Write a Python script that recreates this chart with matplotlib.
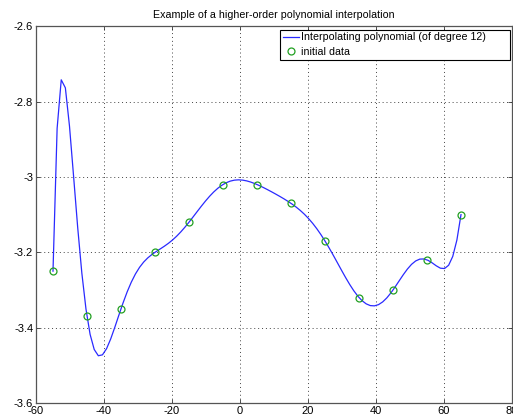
import numpy as np
import matplotlib
matplotlib.use("Agg")
import matplotlib.pyplot as plt
from matplotlib.ticker import FuncFormatter

# Sample points
x_data = [-55, -45, -35, -25, -15, -5, 5, 15, 25, 35, 45, 55, 65]
y_data = [-3.25, -3.37, -3.35, -3.20, -3.12, -3.02, -3.02, -3.07, -3.17, -3.32, -3.30, -3.22, -3.10]

x_ticks = [-60, -40, -20, 0, 20, 40, 60, 80]
y_ticks = [-3.6, -3.4, -3.2, -3.0, -2.8, -2.6]

# Degree-12 interpolating polynomial through all 13 points
poly = np.polynomial.Polynomial.fit(x_data, y_data, len(x_data) - 1)
x_curve = np.linspace(min(x_data), max(x_data), 100)
y_curve = poly(x_curve)

plt.rcParams['font.family'] = ['Liberation Sans', 'DejaVu Sans']

fig = plt.figure(figsize=(5.13, 4.2), dpi=100)
ax = fig.add_axes([36 / 513, 17 / 420, 476 / 513, 376.7 / 420])

ax.plot(x_curve, y_curve, color='#2a2aff', lw=0.9,
        label='Interpolating polynomial (of degree 12)')
ax.plot(x_data, y_data, 'o', mfc='none', mec='#22a022', ms=5, mew=0.9,
        label='initial data')

ax.set_xlim(-60, 80)
ax.set_ylim(-3.6, -2.6)
ax.set_xticks(x_ticks)
ax.set_yticks(y_ticks)
fmt = FuncFormatter(lambda v, p: '%g' % round(v, 4))
ax.xaxis.set_major_formatter(fmt)
ax.yaxis.set_major_formatter(fmt)
ax.tick_params(direction='in', length=3, width=0.6, labelsize=8, pad=2,
               top=True, right=True, colors='#333333', labelcolor='black')
ax.grid(True, linestyle=(0, (1, 3)), color='#444444', lw=0.7)

for s in ax.spines.values():
    s.set_color('#555555')
    s.set_linewidth(0.9)

ax.set_title('Example of a higher-order polynomial interpolation', fontsize=7.7, pad=6)

leg = ax.legend(loc='upper left', bbox_to_anchor=(0.5126, 0.918, 0.484, 0.073),
                mode='expand', fontsize=7.7, frameon=True, fancybox=False,
                borderaxespad=0, handlelength=1.5, handletextpad=0.2,
                borderpad=0.25, labelspacing=0.45, framealpha=1)
leg.get_frame().set_edgecolor('black')
leg.get_frame().set_linewidth(0.8)

fig.savefig('out.png', dpi=100)
